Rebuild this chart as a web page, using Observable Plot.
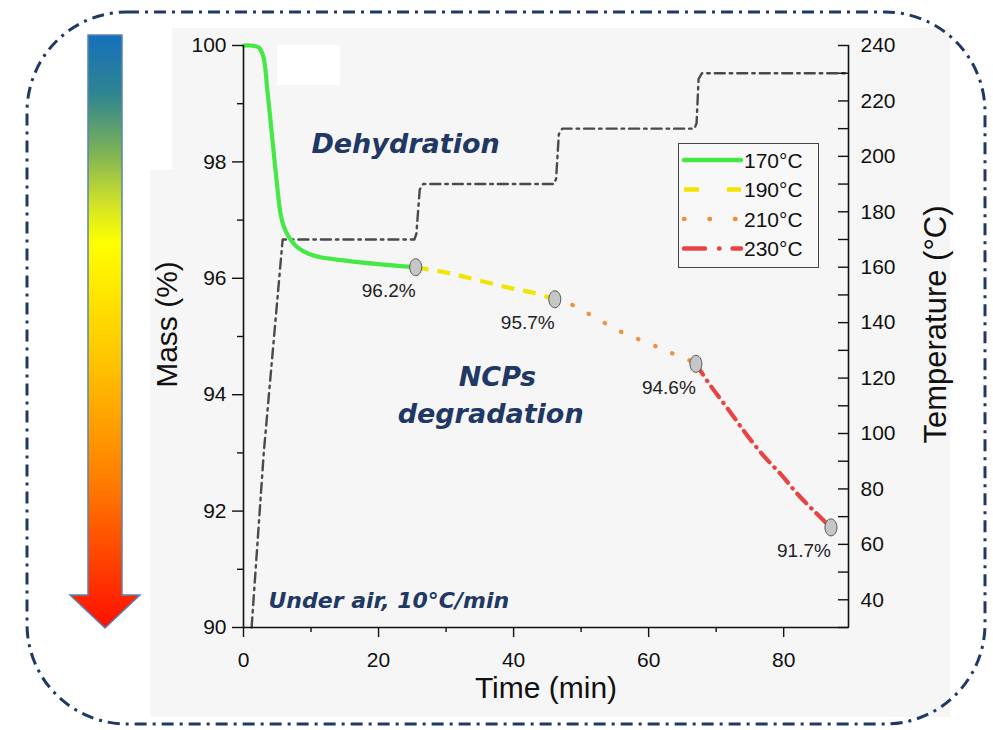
<!DOCTYPE html>
<html>
<head>
<meta charset="utf-8">
<script src="https://cdn.jsdelivr.net/npm/d3@7"></script>
<script src="https://cdn.jsdelivr.net/npm/@observablehq/plot@0.6"></script>
<style>
  html, body { margin: 0; padding: 0; background: #ffffff; }
  #wrap { position: relative; width: 993px; height: 730px; overflow: hidden; font-family: "Liberation Sans", Arial, sans-serif; }
  #deco, #chart, #legend { position: absolute; left: 0; top: 0; }
  #legend { left: 678px; top: 143px; }
</style>
</head>
<body>
<div id="wrap">
  <svg id="deco" width="993" height="730"></svg>
  <div id="chart"></div>
  <svg id="legend" width="142" height="126"></svg>
</div>
<script>
// ---------------- DATA ----------------
// Isotherm segments of the mass-loss curve (time in min, mass in %)
const time170 = [0, 1, 2, 2.4, 3.0, 3.5, 4.0, 4.5, 5.0, 5.5, 6.0, 6.7, 7.9, 10.4, 15.4, 20.3, 25.5];
const mass170 = [100, 100, 99.98, 99.95, 99.78, 99.27, 98.71, 98.13, 97.57, 97.1, 96.88, 96.71, 96.54, 96.39, 96.30, 96.24, 96.19];
const time190 = [25.5, 30, 35, 40, 43, 46.1];
const mass190 = [96.19, 96.1, 95.96, 95.82, 95.75, 95.64];
const time210 = [46.1, 48.4, 51.1, 56.1, 60.3, 63.3, 66.2, 67.0];
const mass210 = [95.64, 95.56, 95.39, 95.07, 94.87, 94.72, 94.58, 94.53];
const time230 = [67.0, 69.2, 72.1, 74.6, 77.1, 79.6, 82.0, 84.5, 87.0];
const mass230 = [94.53, 94.15, 93.70, 93.30, 92.94, 92.63, 92.30, 92.0, 91.72];

// Temperature program (time in min, temperature in °C)
const timeT = [1.2, 1.8, 3.0, 5.0, 5.8, 25.3, 25.6, 26.1, 26.6, 46.0, 46.3, 46.7, 47.2, 66.8, 67.1, 67.4, 67.9, 89.6];
const tempT = [30, 51, 93, 148, 170, 170, 172, 188, 190, 190, 192, 208, 210, 210, 212, 228, 230, 230];

// End-of-isotherm points and labels
const endTime = [25.5, 46.1, 67.0, 87.0];
const endMass = [96.19, 95.64, 94.53, 91.72];
const endLabels = ["96.2%", "95.7%", "94.6%", "91.7%"];

// Series legend
const seriesNames = ["170°C", "190°C", "210°C", "230°C"];
const seriesColors = ["#45e845", "#f2e400", "#f0903e", "#e84444"];

// Axis ticks
const timeTicks = [0, 20, 40, 60, 80];
const timeMinor = [10, 30, 50, 70];
const massTicks = [90, 92, 94, 96, 98, 100];
const massMinor = [91, 93, 95, 97, 99];
const tempTicks = [40, 60, 80, 100, 120, 140, 160, 180, 200, 220, 240];
const tempMinor = [30, 50, 70, 90, 110, 130, 150, 170, 190, 210, 230];

// Annotations
const noteText = ["Dehydration", "NCPs", "degradation"];
const noteTime = [24.0, 37.6, 36.6];
const noteMass = [98.30, 94.29, 93.67];
const condText = ["Under air, 10°C/min"];
const condTime = [3.7];
const condMass = [90.46];

// ---------------- SCALES HELPERS ----------------
const xMax = 89.6;
const tMin = 30, tMax = 240, mMin = 90, mMax = 100;
const tToM = t => mMin + (t - tMin) * (mMax - mMin) / (tMax - tMin);
const mToT = m => tMin + (m - mMin) * (tMax - tMin) / (mMax - mMin);

const dashes = [null, "13,9", "0.5,18", "13,7,0.5,7"];
const segs = [[time170, mass170], [time190, mass190], [time210, mass210], [time230, mass230]];

const ellipse = {
  draw(ctx) {
    const rx = 6, ry = 8.5, k = 0.5523;
    ctx.moveTo(rx, 0);
    ctx.bezierCurveTo(rx, ry * k, rx * k, ry, 0, ry);
    ctx.bezierCurveTo(-rx * k, ry, -rx, ry * k, -rx, 0);
    ctx.bezierCurveTo(-rx, -ry * k, -rx * k, -ry, 0, -ry);
    ctx.bezierCurveTo(rx * k, -ry, rx, -ry * k, rx, 0);
    ctx.closePath();
  }
};

const navy = "#1f3864";
const idx = a => d3.range(a.length);

const lineMarks = segs.map(([t, m], s) => Plot.line(idx(t), {
  x: i => t[i], y: i => m[i],
  stroke: seriesColors[s], strokeWidth: 4.2,
  strokeDasharray: dashes[s] || undefined,
  strokeLinecap: s === 1 ? "butt" : "round",
  curve: "catmull-rom"
}));

const chart = Plot.plot({
  width: 993, height: 730,
  marginLeft: 243, marginRight: 145, marginTop: 45, marginBottom: 103,
  x: {domain: [0, xMax]},
  y: {domain: [mMin, mMax]},
  style: {background: "transparent", fontFamily: "'Liberation Sans', Arial, sans-serif", color: "#111"},
  marks: [
    // temperature program
    Plot.line(idx(timeT), {x: i => timeT[i], y: i => tToM(tempT[i]), stroke: "#4a4a4a", strokeWidth: 2.4, strokeDasharray: "10,5,2.5,5"}),
    ...lineMarks,
    // end markers
    Plot.dot(idx(endTime), {x: i => endTime[i], y: i => endMass[i], symbol: ellipse, fill: "#c6c6c6", stroke: "#555", strokeWidth: 1}),
    Plot.text(idx(endTime), {x: i => endTime[i], y: i => endMass[i], text: i => endLabels[i], dx: -27, dy: 24, fontSize: 19, fill: "#222"}),
    // annotations
    Plot.text(idx(noteText), {x: i => noteTime[i], y: i => noteMass[i], text: i => noteText[i], fontSize: 27, fontWeight: "bold", fontStyle: "italic", fontFamily: "'DejaVu Sans', sans-serif", fill: navy}),
    Plot.text(condText, {x: () => condTime[0], y: () => condMass[0], text: d => d, textAnchor: "start", fontSize: 22, fontWeight: "bold", fontStyle: "italic", fontFamily: "'DejaVu Sans', sans-serif", fill: navy}),
    // frame lines (left, right, bottom)
    Plot.ruleX([0, xMax], {stroke: "#111", strokeWidth: 1.6}),
    Plot.ruleY([mMin], {stroke: "#111", strokeWidth: 1.6}),
    // axes
    Plot.axisX(timeTicks, {tickSize: 10, tickPadding: 15, fontSize: 21, label: null, strokeWidth: 1.4, tickFormat: d => String(d)}),
    Plot.axisX(timeMinor, {tickSize: 5, tickFormat: () => "", label: null, strokeWidth: 1.4}),
    Plot.axisY(massTicks, {anchor: "left", tickSize: 11, tickPadding: 6, fontSize: 21, label: null, strokeWidth: 1.4, tickFormat: d => String(d)}),
    Plot.axisY(massMinor, {anchor: "left", tickSize: 6, tickFormat: () => "", label: null, strokeWidth: 1.4}),
    Plot.axisY(tempTicks.map(tToM), {anchor: "right", tickSize: -11, tickPadding: 23, fontSize: 21, label: null, strokeWidth: 1.4, tickFormat: m => String(Math.round(mToT(m)))}),
    Plot.axisY(tempMinor.map(tToM), {anchor: "right", tickSize: -11, tickFormat: () => "", label: null, strokeWidth: 1.4}),
    // axis titles
    Plot.text(["Time (min)"], {frameAnchor: "bottom", dy: 70, textAnchor: "middle", fontSize: 30, fill: "#111"}),
    Plot.text(["Mass (%)"], {frameAnchor: "left", dx: -76, dy: -12, textAnchor: "middle", rotate: -90, fontSize: 30, fill: "#111"}),
    Plot.text(["Temperature (°C)"], {frameAnchor: "right", dx: 88, dy: -12, textAnchor: "middle", rotate: -90, fontSize: 31, fill: "#111"})
  ]
});
document.getElementById("chart").appendChild(chart);

// ---------------- DECORATION (background, border, arrow) ----------------
const deco = d3.select("#deco");
const defs = deco.append("defs");
const grad = defs.append("linearGradient").attr("id", "g").attr("x1", 0).attr("y1", 0).attr("x2", 0).attr("y2", 1);
[[0, "#1570bb"], [0.1, "#2f8590"], [0.2, "#7fb354"], [0.28, "#cde02a"], [0.35, "#ffff00"], [0.55, "#ffc400"], [0.75, "#ff7e00"], [1, "#ff1000"]]
  .forEach(([o, c]) => grad.append("stop").attr("offset", o).attr("stop-color", c));

// light paper background behind the chart
deco.append("path")
  .attr("d", "M172,28 H950 V717 H150 V170 H172 Z")
  .attr("fill", "#f6f6f6");
deco.append("rect").attr("x", 277).attr("y", 45).attr("width", 63).attr("height", 40).attr("fill", "#ffffff");

// rounded dash-dot border
deco.append("rect")
  .attr("x", 27).attr("y", 12).attr("width", 958).attr("height", 712)
  .attr("rx", 100).attr("ry", 100)
  .attr("fill", "none").attr("stroke", navy).attr("stroke-width", 3)
  .attr("stroke-dasharray", "12,6,3,6");

// gradient arrow
deco.append("path")
  .attr("d", "M88,35 H122 V595 H140 L105,628 L70,595 H88 Z")
  .attr("fill", "url(#g)").attr("stroke", "#5b82b2").attr("stroke-width", 1.5);

// ---------------- LEGEND ----------------
const lg = d3.select("#legend");
lg.append("rect").attr("x", 0.5).attr("y", 0.5).attr("width", 140).attr("height", 124)
  .attr("fill", "#f8f8f8").attr("stroke", "#444").attr("stroke-width", 1);
const legDash = [null, "15,28", "0.5,25", "21,14,0.5,13"];
seriesNames.forEach((name, i) => {
  const y = 17 + i * 29.5;
  lg.append("line").attr("x1", 6).attr("x2", 63).attr("y1", y).attr("y2", y)
    .attr("stroke", seriesColors[i]).attr("stroke-width", 4.5)
    .attr("stroke-linecap", i === 1 ? "butt" : "round")
    .attr("stroke-dasharray", legDash[i]);
  lg.append("text").attr("x", 66).attr("y", y).attr("dy", "0.36em")
    .attr("font-size", 21).attr("fill", "#111")
    .attr("font-family", "'Liberation Sans', Arial, sans-serif").text(name);
});
</script>
</body>
</html>
